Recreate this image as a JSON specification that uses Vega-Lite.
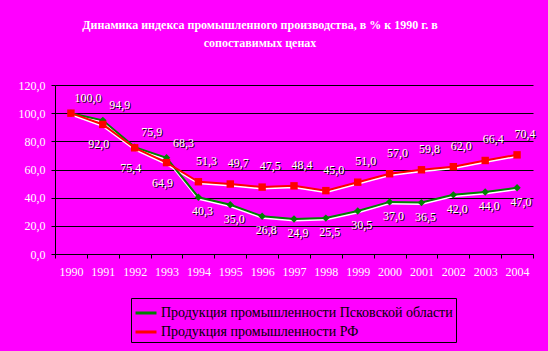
{
  "$schema": "https://vega.github.io/schema/vega-lite/v6.json",
  "width": 478,
  "height": 169,
  "autosize": "none",
  "padding": {"left": 55, "top": 85, "right": 15, "bottom": 97},
  "background": "#FF00FF",
  "config": {
    "view": {"stroke": null},
    "font": "Liberation Serif",
    "locale": {"number": {"decimal": ",", "thousands": " ", "grouping": [3], "currency": ["", ""]}}
  },
  "title": {
    "text": ["Динамика индекса промышленного производства, в % к 1990 г. в", "сопоставимых ценах"],
    "font": "Liberation Serif",
    "fontSize": 12,
    "fontWeight": "bold",
    "color": "white",
    "anchor": "middle",
    "frame": "group",
    "dx": -34,
    "offset": 29,
    "lineHeight": 18
  },
  "data": {
    "values": [
      {"year": "1990", "series": "Продукция промышленности Псковской области", "value": 100.0},
      {"year": "1991", "series": "Продукция промышленности Псковской области", "value": 94.9},
      {"year": "1992", "series": "Продукция промышленности Псковской области", "value": 75.9},
      {"year": "1993", "series": "Продукция промышленности Псковской области", "value": 68.3},
      {"year": "1994", "series": "Продукция промышленности Псковской области", "value": 40.3},
      {"year": "1995", "series": "Продукция промышленности Псковской области", "value": 35.0},
      {"year": "1996", "series": "Продукция промышленности Псковской области", "value": 26.8},
      {"year": "1997", "series": "Продукция промышленности Псковской области", "value": 24.9},
      {"year": "1998", "series": "Продукция промышленности Псковской области", "value": 25.5},
      {"year": "1999", "series": "Продукция промышленности Псковской области", "value": 30.5},
      {"year": "2000", "series": "Продукция промышленности Псковской области", "value": 37.0},
      {"year": "2001", "series": "Продукция промышленности Псковской области", "value": 36.5},
      {"year": "2002", "series": "Продукция промышленности Псковской области", "value": 42.0},
      {"year": "2003", "series": "Продукция промышленности Псковской области", "value": 44.0},
      {"year": "2004", "series": "Продукция промышленности Псковской области", "value": 47.0},
      {"year": "1990", "series": "Продукция промышленности РФ", "value": 100.0},
      {"year": "1991", "series": "Продукция промышленности РФ", "value": 92.0},
      {"year": "1992", "series": "Продукция промышленности РФ", "value": 75.4},
      {"year": "1993", "series": "Продукция промышленности РФ", "value": 64.9},
      {"year": "1994", "series": "Продукция промышленности РФ", "value": 51.3},
      {"year": "1995", "series": "Продукция промышленности РФ", "value": 49.7},
      {"year": "1996", "series": "Продукция промышленности РФ", "value": 47.5},
      {"year": "1997", "series": "Продукция промышленности РФ", "value": 48.4},
      {"year": "1998", "series": "Продукция промышленности РФ", "value": 45.0},
      {"year": "1999", "series": "Продукция промышленности РФ", "value": 51.0},
      {"year": "2000", "series": "Продукция промышленности РФ", "value": 57.0},
      {"year": "2001", "series": "Продукция промышленности РФ", "value": 59.8},
      {"year": "2002", "series": "Продукция промышленности РФ", "value": 62.0},
      {"year": "2003", "series": "Продукция промышленности РФ", "value": 66.4},
      {"year": "2004", "series": "Продукция промышленности РФ", "value": 70.4}
    ]
  },
  "encoding": {
    "x": {
      "field": "year",
      "type": "ordinal",
      "bandPosition": 0.5,
      "scale": {"type": "band", "paddingInner": 0, "paddingOuter": 0},
      "axis": {
        "title": null,
        "labelAngle": 0,
        "labelColor": "white",
        "labelFont": "Liberation Serif",
        "labelFontSize": 12,
        "labelPadding": 8,
        "domainColor": "black",
        "tickColor": "black",
        "tickSize": 4,
        "tickBand": "extent",
        "grid": false
      }
    },
    "y": {
      "field": "value",
      "type": "quantitative",
      "scale": {"domain": [0, 120]},
      "axis": {
        "title": null,
        "values": [0, 20, 40, 60, 80, 100, 120],
        "format": ".1f",
        "labelColor": "white",
        "labelFont": "Liberation Serif",
        "labelFontSize": 12,
        "labelPadding": 6,
        "domainColor": "black",
        "tickColor": "black",
        "tickSize": 4,
        "grid": true,
        "gridColor": "black",
        "gridOpacity": 1
      }
    }
  },
  "layer": [
    {
      "mark": {"type": "line", "color": "white", "strokeWidth": 2, "yOffset": 1.5},
      "encoding": {"detail": {"field": "series"}}
    },
    {
      "mark": {"type": "line", "strokeWidth": 2},
      "encoding": {
        "color": {
          "field": "series",
          "type": "nominal",
          "scale": {
            "domain": ["Продукция промышленности Псковской области", "Продукция промышленности РФ"],
            "range": ["#008000", "#FF0000"]
          },
          "legend": {
            "orient": "none",
            "legendX": 76,
            "legendY": 213,
            "title": null,
            "direction": "vertical",
            "symbolType": "stroke",
            "symbolStrokeWidth": 3,
            "symbolSize": 441,
            "labelFont": "Liberation Serif",
            "labelFontSize": 14,
            "labelColor": "black",
            "labelLimit": 400,
            "labelOffset": 3,
            "strokeColor": "black",
            "fillColor": "#FF00FF",
            "padding": 3,
            "rowPadding": 0
          }
        }
      }
    },
    {
      "transform": [{"filter": "datum.series == 'Продукция промышленности Псковской области'"}],
      "mark": {"type": "point", "shape": "diamond", "filled": true, "size": 55, "opacity": 1, "color": "#008000"}
    },
    {
      "transform": [{"filter": "datum.series == 'Продукция промышленности РФ'"}],
      "mark": {"type": "point", "shape": "square", "filled": true, "size": 55, "opacity": 1, "color": "#FF0000"}
    },
    {
      "transform": [{"filter": "datum.series == 'Продукция промышленности Псковской области' && datum.year <= '1993'"}],
      "mark": {"type": "text", "color": "black", "fontSize": 12, "dx": 18, "dy": -14, "baseline": "middle"},
      "encoding": {"text": {"field": "value", "type": "quantitative", "format": ".1f"}}
    },
    {
      "transform": [{"filter": "datum.series == 'Продукция промышленности Псковской области' && datum.year <= '1993'"}],
      "mark": {"type": "text", "color": "white", "fontSize": 12, "dx": 17, "dy": -15, "baseline": "middle"},
      "encoding": {"text": {"field": "value", "type": "quantitative", "format": ".1f"}}
    },
    {
      "transform": [{"filter": "datum.series == 'Продукция промышленности Псковской области' && datum.year >= '1994'"}],
      "mark": {"type": "text", "color": "black", "fontSize": 12, "dx": 5, "dy": 15, "baseline": "middle"},
      "encoding": {"text": {"field": "value", "type": "quantitative", "format": ".1f"}}
    },
    {
      "transform": [{"filter": "datum.series == 'Продукция промышленности Псковской области' && datum.year >= '1994'"}],
      "mark": {"type": "text", "color": "white", "fontSize": 12, "dx": 4, "dy": 14, "baseline": "middle"},
      "encoding": {"text": {"field": "value", "type": "quantitative", "format": ".1f"}}
    },
    {
      "transform": [{"filter": "datum.series == 'Продукция промышленности РФ' && datum.year >= '1991' && datum.year <= '1993'"}],
      "mark": {"type": "text", "color": "black", "fontSize": 12, "dx": -3, "dy": 21, "baseline": "middle"},
      "encoding": {"text": {"field": "value", "type": "quantitative", "format": ".1f"}}
    },
    {
      "transform": [{"filter": "datum.series == 'Продукция промышленности РФ' && datum.year >= '1991' && datum.year <= '1993'"}],
      "mark": {"type": "text", "color": "white", "fontSize": 12, "dx": -4, "dy": 20, "baseline": "middle"},
      "encoding": {"text": {"field": "value", "type": "quantitative", "format": ".1f"}}
    },
    {
      "transform": [{"filter": "datum.series == 'Продукция промышленности РФ' && datum.year >= '1994'"}],
      "mark": {"type": "text", "color": "black", "fontSize": 12, "dx": 9, "dy": -20, "baseline": "middle"},
      "encoding": {"text": {"field": "value", "type": "quantitative", "format": ".1f"}}
    },
    {
      "transform": [{"filter": "datum.series == 'Продукция промышленности РФ' && datum.year >= '1994'"}],
      "mark": {"type": "text", "color": "white", "fontSize": 12, "dx": 8, "dy": -21, "baseline": "middle"},
      "encoding": {"text": {"field": "value", "type": "quantitative", "format": ".1f"}}
    }
  ]
}
